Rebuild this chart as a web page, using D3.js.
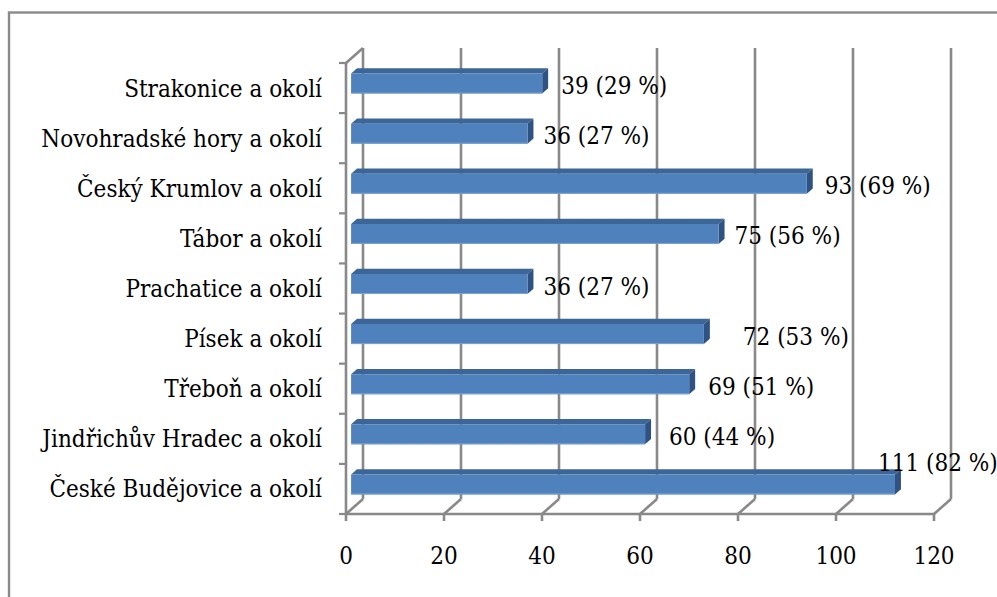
<!DOCTYPE html>
<html>
<head>
<meta charset="utf-8">
<script src="https://cdn.jsdelivr.net/npm/d3@7"></script>
<style>
  html, body { margin: 0; padding: 0; background: #fff; }
  svg { display: block; }
</style>
</head>
<body>
<svg id="chart" width="997" height="597"></svg>
<script>
// Regions (top to bottom as shown) and respondent counts
const categories = [
  "Strakonice a okolí",
  "Novohradské hory a okolí",
  "Český Krumlov a okolí",
  "Tábor a okolí",
  "Prachatice a okolí",
  "Písek a okolí",
  "Třeboň a okolí",
  "Jindřichův Hradec a okolí",
  "České Budějovice a okolí"
];
const counts   = [39, 36, 93, 75, 36, 72, 69, 60, 111];
const percents = [29, 27, 69, 56, 27, 53, 51, 44, 82];
const xTicks   = [0, 20, 40, 60, 80, 100, 120];

// Hand-placed label offsets (dx, dy) relative to the default spot right of each bar
const labelNudge = [[3, 0], [0, 0], [2, 0], [0, 0], [0, 0], [23, 0], [3, 0], [8, 0], [-33, -24]];

const FONT = "'DejaVu Serif Condensed', 'DejaVu Serif', serif";
const FS = 24;
const svg = d3.select("#chart");

// Outer chart frame
svg.append("rect")
  .attr("x", 9).attr("y", 12.5)
  .attr("width", 1000).attr("height", 600)
  .attr("fill", "none").attr("stroke", "#8a8a8a").attr("stroke-width", 2.4);

// Front plane of the 3D box; depth offset of the back wall
const x = d3.scaleLinear().domain([0, 120]).range([346, 934]);
const y = d3.scaleBand().domain(categories).range([63, 514]);
const DX = 17, DY = -15;
const P = (v, py, z) => [x(v) + z * DX, py + z * DY];

const gridColor = "#898989";
const g = svg.append("g");
const yTop = y.range()[0], yBot = y.range()[1];

// Back-wall gridlines
g.selectAll("line.grid").data(xTicks).join("line")
  .attr("x1", d => P(d, yTop, 1)[0]).attr("y1", P(0, yTop, 1)[1])
  .attr("x2", d => P(d, yBot, 1)[0]).attr("y2", P(0, yBot, 1)[1])
  .attr("stroke", gridColor).attr("stroke-width", 2.6);

// Floor lines running from the front axis to the back wall
g.selectAll("line.floor").data(xTicks).join("line")
  .attr("x1", d => P(d, yBot, 0)[0]).attr("y1", d => P(d, yBot, 0)[1])
  .attr("x2", d => P(d, yBot, 1)[0]).attr("y2", d => P(d, yBot, 1)[1])
  .attr("stroke", gridColor).attr("stroke-width", 2.6);

// Left wall edges
g.append("line")
  .attr("x1", P(0, yTop, 0)[0]).attr("y1", P(0, yTop, 0)[1])
  .attr("x2", P(0, yTop, 1)[0]).attr("y2", P(0, yTop, 1)[1])
  .attr("stroke", gridColor).attr("stroke-width", 2.6);
g.append("line")
  .attr("x1", x(0)).attr("y1", yTop).attr("x2", x(0)).attr("y2", yBot)
  .attr("stroke", gridColor).attr("stroke-width", 2.6);

// Front value axis line, ticks and labels
g.append("line")
  .attr("x1", x(0)).attr("y1", yBot).attr("x2", x(120)).attr("y2", yBot)
  .attr("stroke", gridColor).attr("stroke-width", 2.6);
g.selectAll("line.xt").data(xTicks).join("line")
  .attr("x1", d => x(d)).attr("x2", d => x(d))
  .attr("y1", yBot).attr("y2", yBot + 7)
  .attr("stroke", gridColor).attr("stroke-width", 2.6);
g.selectAll("text.xt").data(xTicks).join("text")
  .attr("x", d => x(d)).attr("y", 564)
  .attr("text-anchor", "middle")
  .attr("font-family", FONT).attr("font-size", FS)
  .text(d => d);

// Category ticks on the left wall
const catEdges = categories.map(c => y(c)).concat([yBot]);
g.selectAll("line.yt").data(catEdges).join("line")
  .attr("x1", x(0) - 7).attr("x2", x(0))
  .attr("y1", d => d).attr("y2", d => d)
  .attr("stroke", gridColor).attr("stroke-width", 2.2);

// Category labels
g.selectAll("text.cat").data(categories).join("text")
  .attr("x", 322)
  .attr("y", d => y(d) + y.bandwidth() / 2 + 8.5)
  .attr("text-anchor", "end")
  .attr("font-family", FONT).attr("font-size", FS)
  .text(d => d);

// 3D bars: front face, top face, right-hand side face
const z0 = 0.3, z1 = 0.65, half = 10;
const rows = categories.map((c, i) => ({ c, v: counts[i], p: percents[i], i }));
const poly = pts => pts.map(p => p.join(",")).join(" ");

const bars = g.selectAll("g.bar").data(rows).join("g");
bars.each(function (d) {
  const cy = y(d.c) + y.bandwidth() / 2;
  const yt = cy - half, yb = cy + half;
  const sel = d3.select(this);
  sel.append("polygon")
    .attr("points", poly([P(0, yt, z0), P(d.v, yt, z0), P(d.v, yt, z1), P(0, yt, z1)]))
    .attr("fill", "#3c6598");
  sel.append("polygon")
    .attr("points", poly([P(d.v, yt, z0), P(d.v, yb, z0), P(d.v, yb, z1), P(d.v, yt, z1)]))
    .attr("fill", "#2f5283");
  sel.append("polygon")
    .attr("points", poly([P(0, yt, z0), P(d.v, yt, z0), P(d.v, yb, z0), P(0, yb, z0)]))
    .attr("fill", "#4f81bd");
  sel.append("line")
    .attr("x1", P(0, yb, z0)[0]).attr("x2", P(d.v, yb, z0)[0])
    .attr("y1", P(0, yb, z0)[1] - 0.5).attr("y2", P(0, yb, z0)[1] - 0.5)
    .attr("stroke", "#7fa3d2").attr("stroke-width", 1);
});

// Value labels
g.selectAll("text.val").data(rows).join("text")
  .attr("x", d => P(d.v, 0, z1)[0] + 10 + labelNudge[d.i][0])
  .attr("y", d => y(d.c) + y.bandwidth() / 2 + z0 * DY + 2 + 8.5 + labelNudge[d.i][1])
  .attr("font-family", FONT).attr("font-size", FS)
  .text(d => `${d.v} (${d.p} %)`);
</script>
</body>
</html>
